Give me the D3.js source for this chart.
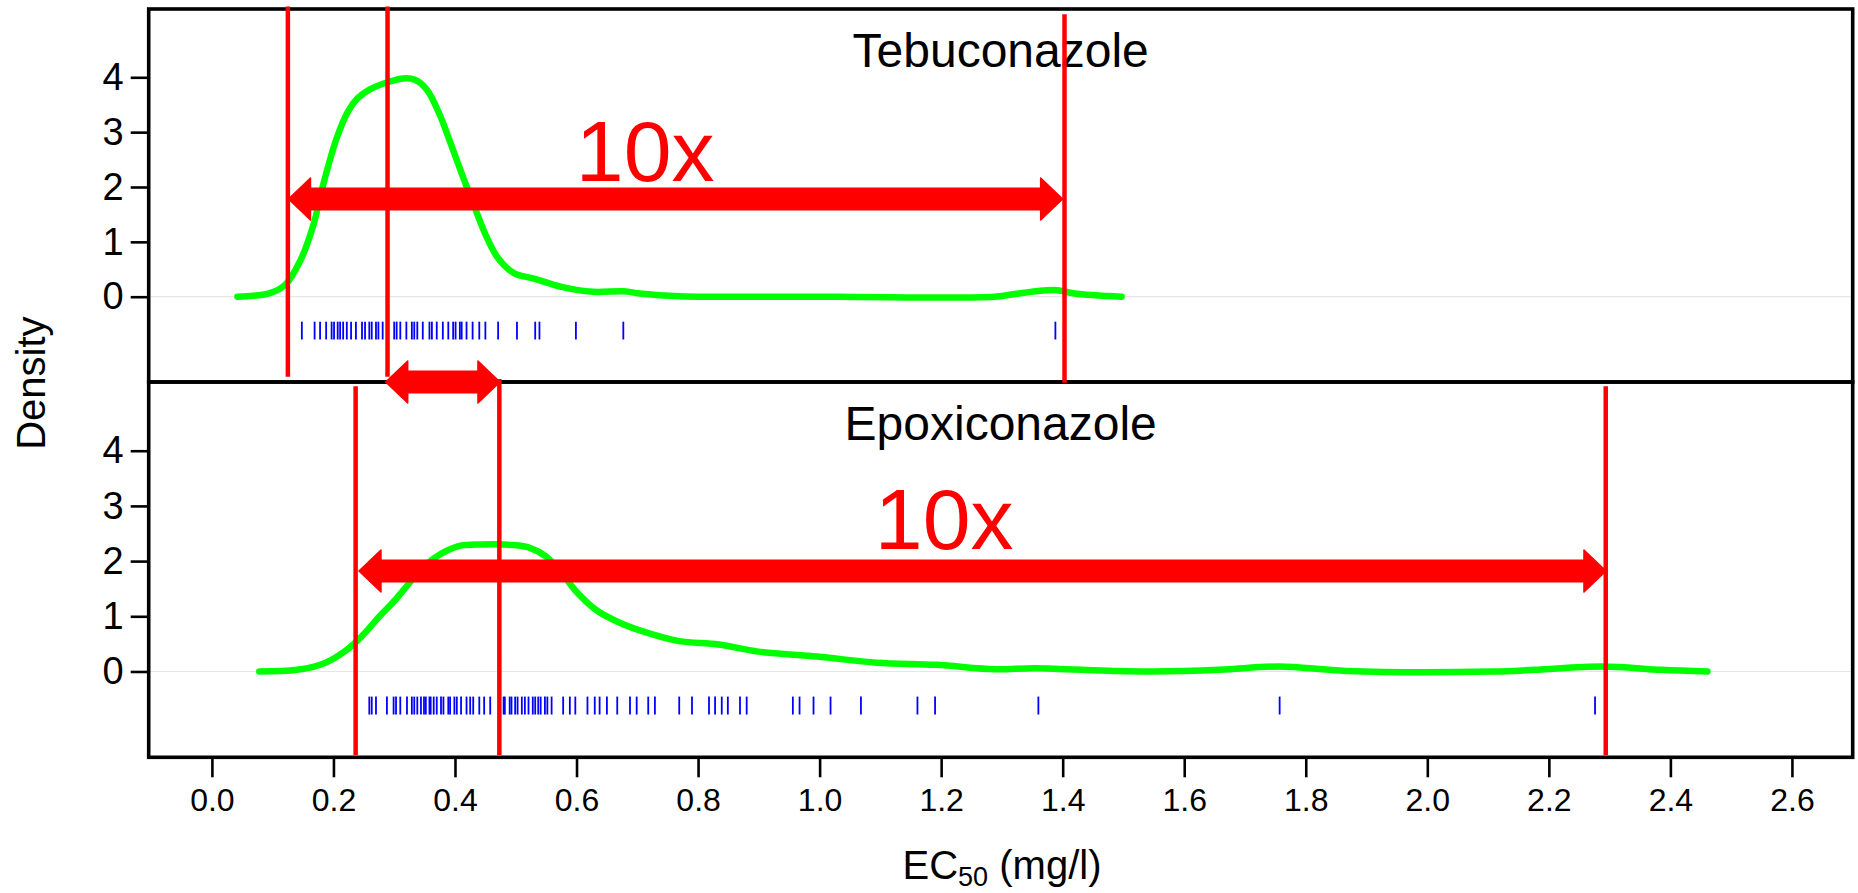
<!DOCTYPE html>
<html>
<head>
<meta charset="utf-8">
<script src="https://cdnjs.cloudflare.com/ajax/libs/d3/7.8.5/d3.min.js"></script>
<style>
  body { margin: 0; background: #fff; }
  svg { display: block; }
  text { font-family: "Liberation Sans", Arial, sans-serif; }
</style>
</head>
<body>
<svg id="chart" width="1858" height="893"></svg>
<script>
// ---- data ----
const panelNames = ['Tebuconazole', 'Epoxiconazole'];
const xTicks = [0, 0.2, 0.4, 0.6, 0.8, 1.0, 1.2, 1.4, 1.6, 1.8, 2.0, 2.2, 2.4, 2.6];
const xTickLabels = ['0.0', '0.2', '0.4', '0.6', '0.8', '1.0', '1.2', '1.4', '1.6', '1.8', '2.0', '2.2', '2.4', '2.6'];
const yTicks = [0, 1, 2, 3, 4];
const yTickLabels = ['0', '1', '2', '3', '4'];

// kernel density curves
const tebuDensX = [0.042, 0.094, 0.120, 0.146, 0.166, 0.185, 0.205, 0.224, 0.240, 0.260, 0.289, 0.315, 0.335,
  0.354, 0.374, 0.393, 0.413, 0.432, 0.452, 0.471, 0.497, 0.530, 0.575, 0.627, 0.678, 0.704, 0.769,
  1.028, 1.288, 1.328, 1.387, 1.419, 1.497];
const tebuDensY = [0, 0.06, 0.21, 0.67, 1.27, 2.12, 2.88, 3.38, 3.62, 3.78, 3.91, 3.98, 3.95,
  3.77, 3.34, 2.79, 2.19, 1.64, 1.09, 0.70, 0.43, 0.33, 0.18, 0.09, 0.10, 0.06, 0.01,
  0, 0, 0.06, 0.12, 0.06, 0];

const epoxDensX = [0.078, 0.140, 0.185, 0.218, 0.244, 0.276, 0.302, 0.335, 0.367, 0.406, 0.445, 0.497,
  0.523, 0.549, 0.575, 0.601, 0.634, 0.672, 0.717, 0.769, 0.834, 0.899, 0.996, 1.094, 1.192, 1.289,
  1.354, 1.484, 1.549, 1.658, 1.757, 1.867, 2.108, 2.177, 2.288, 2.385, 2.461];
const epoxDensY = [0, 0.03, 0.15, 0.36, 0.61, 1.00, 1.30, 1.73, 2.06, 2.27, 2.30, 2.29,
  2.24, 2.09, 1.79, 1.43, 1.10, 0.88, 0.70, 0.55, 0.49, 0.36, 0.27, 0.16, 0.12, 0.04,
  0.06, 0.01, 0, 0.03, 0.09, 0.01, 0, 0.03, 0.09, 0.03, 0];

// rug (single EC50 values)
const tebuRug = [0.148, 0.169, 0.178, 0.188, 0.197, 0.201, 0.207, 0.211, 0.216, 0.222, 0.229, 0.237,
  0.247, 0.252, 0.259, 0.263, 0.270, 0.274, 0.281, 0.300, 0.304, 0.310, 0.320, 0.329, 0.333, 0.338,
  0.347, 0.358, 0.362, 0.370, 0.380, 0.389, 0.397, 0.401, 0.408, 0.411, 0.419, 0.429, 0.440, 0.450,
  0.471, 0.502, 0.532, 0.539, 0.599, 0.677, 1.388];
const epoxRug = [0.259, 0.263, 0.270, 0.288, 0.299, 0.303, 0.310, 0.321, 0.329, 0.333, 0.338, 0.344,
  0.349, 0.352, 0.358, 0.360, 0.365, 0.370, 0.377, 0.381, 0.389, 0.392, 0.399, 0.403, 0.410, 0.419,
  0.425, 0.430, 0.440, 0.448, 0.458, 0.480, 0.482, 0.490, 0.493, 0.499, 0.503, 0.510, 0.515, 0.521,
  0.528, 0.532, 0.537, 0.541, 0.548, 0.552, 0.559, 0.578, 0.589, 0.598, 0.618, 0.630, 0.638, 0.650,
  0.667, 0.688, 0.699, 0.718, 0.729, 0.769, 0.790, 0.818, 0.828, 0.839, 0.849, 0.869, 0.880, 0.956,
  0.967, 0.990, 1.018, 1.068, 1.161, 1.190, 1.360, 1.757, 2.276];

// red annotations (EC50 units)
const tebuLines = [0.125, 0.289, 1.403];
const epoxLines = [0.2365, 0.473, 2.2936];
const tebuArrow = [0.126, 1.400];
const epoxArrow = [0.242, 2.294];
const shiftArrow = [0.286, 0.474];
const foldLabel = '10x';

// ---- layout ----
const svg = d3.select('#chart');
const left = 148.7, right = 1852.7;
const panelTops = [9, 382];
const panelBottoms = [382, 757.3];

const x = d3.scaleLinear().domain([-0.104, 2.7]).range([left, right]);

const panels = panelNames.map((name, i) => ({
  name,
  densX: i === 0 ? tebuDensX : epoxDensX,
  densY: i === 0 ? tebuDensY : epoxDensY,
  rug: i === 0 ? tebuRug : epoxRug,
  y: d3.scaleLinear().domain([-1.555, 5.245]).range([panelBottoms[i], panelTops[i]]),
  top: panelTops[i],
  bottom: panelBottoms[i]
}));

const red = '#ff0000';

function arrowPath(x1, x2, yc) {
  const h = 10.8, H = 21, L = 22;
  return `M${x1},${yc} L${x1 + L},${yc - H} L${x1 + L},${yc - h} L${x2 - L},${yc - h} L${x2 - L},${yc - H}` +
    ` L${x2},${yc} L${x2 - L},${yc + H} L${x2 - L},${yc + h} L${x1 + L},${yc + h} L${x1 + L},${yc + H} Z`;
}

panels.forEach((p) => {
  const g = svg.append('g');

  // zero reference line
  g.append('line')
    .attr('x1', left).attr('x2', right)
    .attr('y1', p.y(0)).attr('y2', p.y(0))
    .attr('stroke', '#e6e6e6').attr('stroke-width', 1.2);

  // density curve
  const pts = p.densX.map((d, k) => [d, p.densY[k]]);
  g.append('path')
    .datum(pts)
    .attr('fill', 'none')
    .attr('stroke', '#00ff00')
    .attr('stroke-width', 6.5)
    .attr('stroke-linecap', 'round')
    .attr('stroke-linejoin', 'round')
    .attr('d', d3.line().x(d => x(d[0])).y(d => p.y(Math.max(0, d[1]))).curve(d3.curveCatmullRom.alpha(0.5)));

  // rug
  g.selectAll('line.rug')
    .data(p.rug)
    .join('line')
    .attr('class', 'rug')
    .attr('x1', d => x(d)).attr('x2', d => x(d))
    .attr('y1', p.y(-0.455)).attr('y2', p.y(-0.78))
    .attr('stroke', '#0000ff').attr('stroke-width', 1.8);

  // y axis
  const yAxis = d3.axisLeft(p.y).tickValues(yTicks).tickFormat((d, i) => yTickLabels[i])
    .tickSize(18).tickPadding(7).tickSizeOuter(0);
  const ya = g.append('g').attr('transform', `translate(${left},0)`).call(yAxis);
  ya.select('.domain').remove();
  ya.selectAll('line').attr('stroke', '#000').attr('stroke-width', 2.6);
  ya.selectAll('text').attr('font-size', 38).attr('fill', '#000')
    .attr('font-family', '"Liberation Sans", Arial, sans-serif');

  // panel frame
  g.append('rect')
    .attr('x', left).attr('y', p.top)
    .attr('width', right - left).attr('height', p.bottom - p.top)
    .attr('fill', 'none').attr('stroke', '#000').attr('stroke-width', 3.6);

  // title
  g.append('text')
    .attr('x', (left + right) / 2)
    .attr('y', p.top + 58)
    .attr('text-anchor', 'middle')
    .attr('font-size', 48)
    .text(p.name);
});

// x axis
const xAxis = d3.axisBottom(x).tickValues(xTicks)
  .tickFormat((d, i) => xTickLabels[i]).tickSize(20).tickPadding(11).tickSizeOuter(0);
const xa = svg.append('g').attr('transform', `translate(0,${panelBottoms[1]})`).call(xAxis);
xa.select('.domain').remove();
xa.selectAll('line').attr('stroke', '#000').attr('stroke-width', 2.6);
xa.selectAll('text').attr('font-size', 32).attr('fill', '#000')
  .attr('font-family', '"Liberation Sans", Arial, sans-serif');

// axis titles
svg.append('text')
  .attr('transform', `translate(45,${(panelTops[0] + panelBottoms[1]) / 2}) rotate(-90)`)
  .attr('text-anchor', 'middle')
  .attr('font-size', 40)
  .text('Density');

const xl = svg.append('text')
  .attr('x', 1002).attr('y', 879)
  .attr('text-anchor', 'middle')
  .attr('font-size', 40);
xl.append('tspan').text('EC');
xl.append('tspan').attr('font-size', 27).attr('dy', 7).text('50');
xl.append('tspan').attr('dy', -7).text(' (mg/l)');

// ---- red annotations on top ----
const ann = svg.append('g');
const topP = panels[0], botP = panels[1];

// vertical lines, top panel
tebuLines.forEach((v, k) => {
  ann.append('line')
    .attr('x1', x(v)).attr('x2', x(v))
    .attr('y1', topP.y(k < 2 ? 5.29 : 5.15))
    .attr('y2', topP.y(k < 2 ? -1.46 : -1.57))
    .attr('stroke', red).attr('stroke-width', 4.5);
});
// vertical lines, bottom panel
epoxLines.forEach((v, k) => {
  ann.append('line')
    .attr('x1', x(v)).attr('x2', x(v))
    .attr('y1', botP.y(k === 1 ? 5.3 : 5.17))
    .attr('y2', botP.y(-1.52))
    .attr('stroke', red).attr('stroke-width', 4.5);
});

// double arrows
[[tebuArrow, topP.y(1.78)], [epoxArrow, botP.y(1.82)], [shiftArrow, topP.y(-1.555)]].forEach(([a, yc]) => {
  ann.append('path').attr('d', arrowPath(x(a[0]), x(a[1]), yc))
    .attr('fill', red).attr('stroke', red).attr('stroke-width', 1.5).attr('stroke-linejoin', 'round');
});

// fold labels
ann.append('text').attr('x', x(0.713)).attr('y', topP.y(2.11))
  .attr('text-anchor', 'middle').attr('font-size', 86).attr('fill', red).text(foldLabel);
ann.append('text').attr('x', x(1.205)).attr('y', botP.y(2.22))
  .attr('text-anchor', 'middle').attr('font-size', 86).attr('fill', red).text(foldLabel);
</script>
</body>
</html>
